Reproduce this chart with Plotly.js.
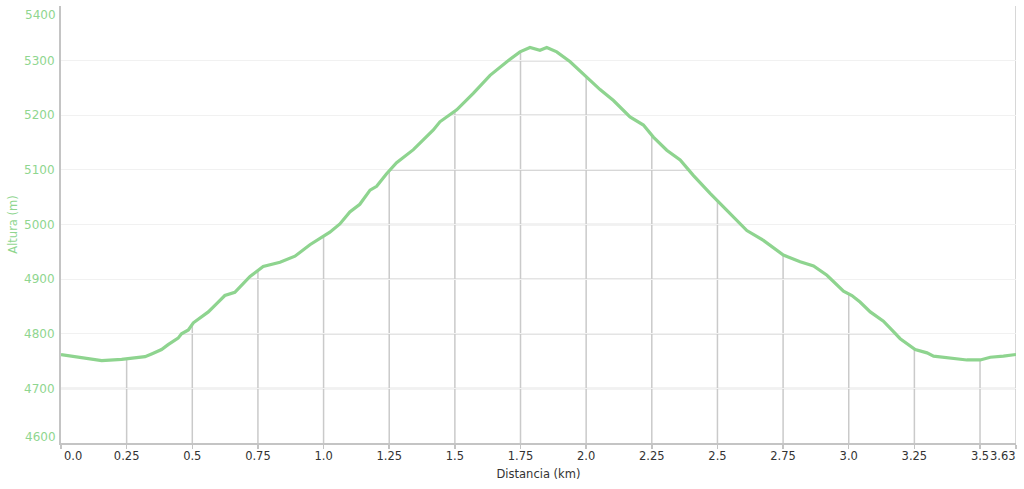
<!DOCTYPE html>
<html>
<head>
<meta charset="utf-8">
<script src="https://cdn.plot.ly/plotly-3.0.1.min.js"></script>
<style>
html,body{margin:0;padding:0;background:#ffffff;}
#chart{width:1024px;height:489px;}
</style>
</head>
<body>
<div id="chart"></div>
<script>
// Distance along the route (km)
const distance = [0.000, 0.104, 0.155, 0.231, 0.320, 0.345, 0.383, 0.408, 0.446, 0.459,
  0.485, 0.504, 0.536, 0.561, 0.593, 0.624, 0.662, 0.701, 0.720, 0.770,
  0.834, 0.891, 0.948, 1.024, 1.062, 1.100, 1.138, 1.177, 1.202, 1.240,
  1.278, 1.342, 1.418, 1.443, 1.507, 1.570, 1.634, 1.698, 1.748, 1.786,
  1.824, 1.850, 1.888, 1.939, 2.002, 2.053, 2.104, 2.167, 2.218, 2.256,
  2.307, 2.358, 2.408, 2.447, 2.472, 2.536, 2.612, 2.675, 2.751, 2.815,
  2.866, 2.917, 2.980, 3.012, 3.043, 3.082, 3.132, 3.164, 3.196, 3.253,
  3.298, 3.323, 3.399, 3.450, 3.501, 3.539, 3.589, 3.637];
// Altitude (m)
const altitude = [4762, 4755, 4751, 4753, 4758, 4763, 4771, 4780, 4792, 4800,
  4807, 4820, 4832, 4840, 4855, 4870, 4876, 4895, 4905, 4923,
  4931, 4942, 4963, 4986, 5001, 5023, 5037, 5063, 5070, 5093,
  5113, 5137, 5173, 5188, 5210, 5240, 5273, 5298, 5316, 5324,
  5319, 5324, 5316, 5298, 5270, 5247, 5227, 5197, 5182, 5160,
  5136, 5118, 5090, 5069, 5057, 5026, 4989, 4971, 4944, 4932,
  4924, 4907, 4878, 4870, 4858, 4840, 4823, 4807, 4791, 4771,
  4765, 4759, 4754, 4752, 4752, 4757, 4759, 4762];

const xTickVals = [0, 0.25, 0.5, 0.75, 1.0, 1.25, 1.5, 1.75, 2.0, 2.25, 2.5, 2.75, 3.0, 3.25, 3.5, 3.637];
const xTickText = ['0.0', '0.25', '0.5', '0.75', '1.0', '1.25', '1.5', '1.75', '2.0', '2.25', '2.5', '2.75', '3.0', '3.25', '3.5', '3.63'];
const yTickVals = [4600, 4700, 4800, 4900, 5000, 5100, 5200, 5300, 5400];
const yTickText = ['4600', '4700', '4800', '4900', '5000', '5100', '5200', '5300', '5400'];

const GREEN = '#8ed48f';
const LABEL_GREEN = '#8fd68f';
const GRID_DARK = '#cacaca';
const FONT = 'DejaVu Sans, Verdana, sans-serif';
const xMax = distance[distance.length - 1];
const yMin = yTickVals[0], yMax = yTickVals[yTickVals.length - 1];

function altAt(x) {
  for (let i = 1; i < distance.length; i++) {
    if (x <= distance[i]) {
      const t = (x - distance[i - 1]) / (distance[i] - distance[i - 1]);
      return altitude[i - 1] + t * (altitude[i] - altitude[i - 1]);
    }
  }
  return altitude[altitude.length - 1];
}

function segmentsAbove(level) {
  const segs = [];
  let start = altitude[0] > level ? distance[0] : null;
  for (let i = 1; i < distance.length; i++) {
    const a = altitude[i - 1], b = altitude[i];
    if ((a > level) !== (b > level)) {
      const xc = distance[i - 1] + (level - a) / (b - a) * (distance[i] - distance[i - 1]);
      if (b > level) start = xc; else { segs.push([start, xc]); start = null; }
    }
  }
  if (start !== null) segs.push([start, distance[distance.length - 1]]);
  return segs;
}

const shapes = [];
yTickVals.slice(1, -1).forEach(L => {
  segmentsAbove(L).forEach(s => {
    shapes.push({type: 'line', layer: 'below', xref: 'x', yref: 'y',
      x0: s[0], x1: s[1], y0: L, y1: L, line: {color: GRID_DARK, width: 1.5}});
  });
});
xTickVals.slice(1, -1).forEach(v => {
  shapes.push({type: 'line', layer: 'below', xref: 'x', yref: 'y',
    x0: v, x1: v, y0: yMin, y1: altAt(v), line: {color: GRID_DARK, width: 1.5}});
});
shapes.push({type: 'line', layer: 'below', xref: 'x', yref: 'y',
  x0: xMax, x1: xMax, y0: yMin, y1: yMax, line: {color: GRID_DARK, width: 1.5}});

const trace = {
  x: distance, y: altitude, type: 'scatter', mode: 'lines',
  line: {color: GREEN, width: 3.2, shape: 'linear'},
  hoverinfo: 'skip'
};

const tickFont = {family: FONT, size: 11.5, color: '#333333'};
const yFont = {family: FONT, size: 12, color: LABEL_GREEN};

const annotations = [
  {text: xTickText[0], xref: 'x', yref: 'paper', x: 0, y: 0, xanchor: 'left', yanchor: 'middle',
   yshift: -13, xshift: 1, showarrow: false, font: tickFont},
  {text: xTickText[xTickText.length - 1], xref: 'x', yref: 'paper', x: xMax, y: 0, xanchor: 'right', yanchor: 'middle',
   yshift: -13, xshift: 2, showarrow: false, font: tickFont},
  {text: yTickText[0], xref: 'paper', yref: 'y', x: 0, y: yMin, xanchor: 'right', yanchor: 'middle',
   xshift: -3, yshift: 6, showarrow: false, font: yFont},
  {text: yTickText[yTickText.length - 1], xref: 'paper', yref: 'y', x: 0, y: yMax, xanchor: 'right', yanchor: 'middle',
   xshift: -3, yshift: -9, showarrow: false, font: yFont}
];

const shownX = xTickText.map((t, i) => (i === 0 || i === xTickText.length - 1) ? '' : t);
const shownY = yTickText.map((t, i) => (i === 0 || i === yTickText.length - 1) ? '' : t);

const layout = {
  width: 1024, height: 489,
  margin: {l: 61, r: 8, t: 6, b: 46},
  paper_bgcolor: '#ffffff', plot_bgcolor: '#ffffff',
  showlegend: false,
  hovermode: false,
  xaxis: {
    range: [0, xMax], tickmode: 'array', tickvals: xTickVals, ticktext: shownX,
    showgrid: false, zeroline: false,
    showline: true, linecolor: '#c4c4c4', linewidth: 2,
    ticks: 'outside', ticklen: 4, tickcolor: '#c4c4c4', tickwidth: 1.5,
    ticklabelstandoff: -3,
    tickfont: tickFont,
    title: {text: 'Distancia (km)', font: {family: FONT, size: 11.5, color: '#333333'}, standoff: 8},
    automargin: false, fixedrange: true
  },
  yaxis: {
    range: [yMin, yMax], tickmode: 'array', tickvals: yTickVals, ticktext: shownY,
    showgrid: true, gridcolor: '#f1f1f1', gridwidth: 1, zeroline: false,
    showline: true, linecolor: '#c4c4c4', linewidth: 2,
    ticks: '', ticklabelstandoff: 2,
    tickfont: yFont,
    title: {text: 'Altura (m)', font: {family: FONT, size: 11.5, color: LABEL_GREEN}, standoff: 4},
    automargin: false, fixedrange: true
  },
  shapes: shapes,
  annotations: annotations
};

Plotly.newPlot('chart', [trace], layout, {displayModeBar: false, staticPlot: true});
</script>
</body>
</html>
